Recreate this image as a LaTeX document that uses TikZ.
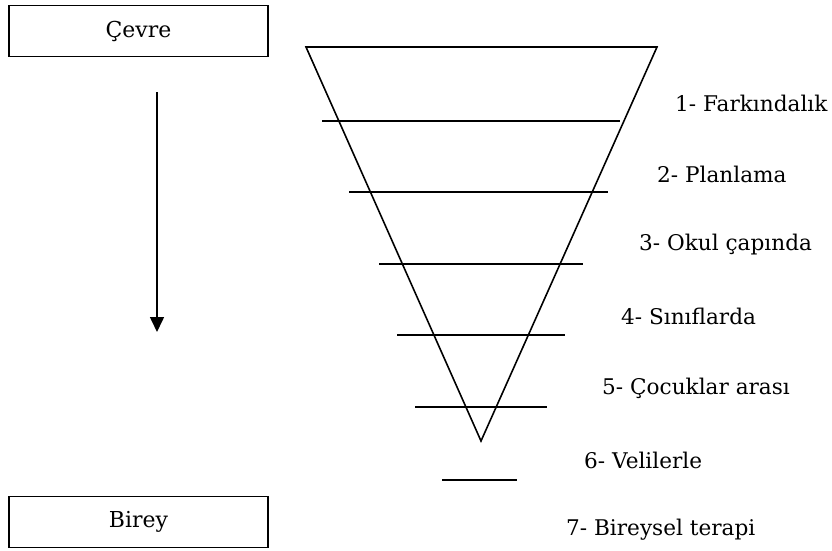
\documentclass[tikz,border=0pt]{standalone}
\usepackage{fontspec}
\setmainfont{DejaVu Serif}
\usepackage{tikz}
\usetikzlibrary{arrows.meta}

\begin{document}
\begin{tikzpicture} [x={(0.02cm,0)}, y={(0,-0.02cm)},
    level/.style = {anchor = west,
    font = \fontsize{12.3}{15}\selectfont},
    box/.style = {draw,
    line width = 1.1pt,
    minimum width = 5.18cm,
    minimum height = 1.02cm,
    font = \fontsize{12.5}{15}\selectfont}]

\useasboundingbox (0,0) rectangle (832,551);

\node (cevre) at (138.5,31) [box] {Çevre};
\node (birey) at (138.5,522) [box] {Birey};

\coordinate (arrtop) at (157,92);
\coordinate (arrend) at (157,332);
\draw [-{Triangle[width=2.8mm,length=3mm]}, line width=0.9pt] (arrtop) -- (arrend);

\coordinate (tl) at (306,47);
\coordinate (tr) at (657,47);
\coordinate (apex) at (481,441);
\draw [line width=0.9pt] (tl) -- (tr) -- (apex) -- cycle;

\coordinate (l1a) at (322,121); \coordinate (l1b) at (620,121);
\coordinate (l2a) at (349,192); \coordinate (l2b) at (608,192);
\coordinate (l3a) at (379,264); \coordinate (l3b) at (583,264);
\coordinate (l4a) at (397,335); \coordinate (l4b) at (565,335);
\coordinate (l5a) at (415,407); \coordinate (l5b) at (547,407);
\coordinate (l6a) at (442,480); \coordinate (l6b) at (517,480);
\draw [line width=0.9pt] (l1a) -- (l1b);
\draw [line width=0.9pt] (l2a) -- (l2b);
\draw [line width=0.9pt] (l3a) -- (l3b);
\draw [line width=0.9pt] (l4a) -- (l4b);
\draw [line width=0.9pt] (l5a) -- (l5b);
\draw [line width=0.9pt] (l6a) -- (l6b);

\node (farkindalik) at (669,103) [level] {1- Farkındalık};
\node (planlama) at (651,174) [level] {2- Planlama};
\node (okul) at (633,245) [level] {3- Okul çapında};
\node (siniflar) at (615,316) [level] {4- Sınıflarda};
\node (cocuklar) at (596,388) [level] {5- Çocuklar arası};
\node (veliler) at (578,460) [level] {6- Velilerle};
\node (bireysel) at (560,530) [level] {7- Bireysel terapi};

\end{tikzpicture}
\end{document}
